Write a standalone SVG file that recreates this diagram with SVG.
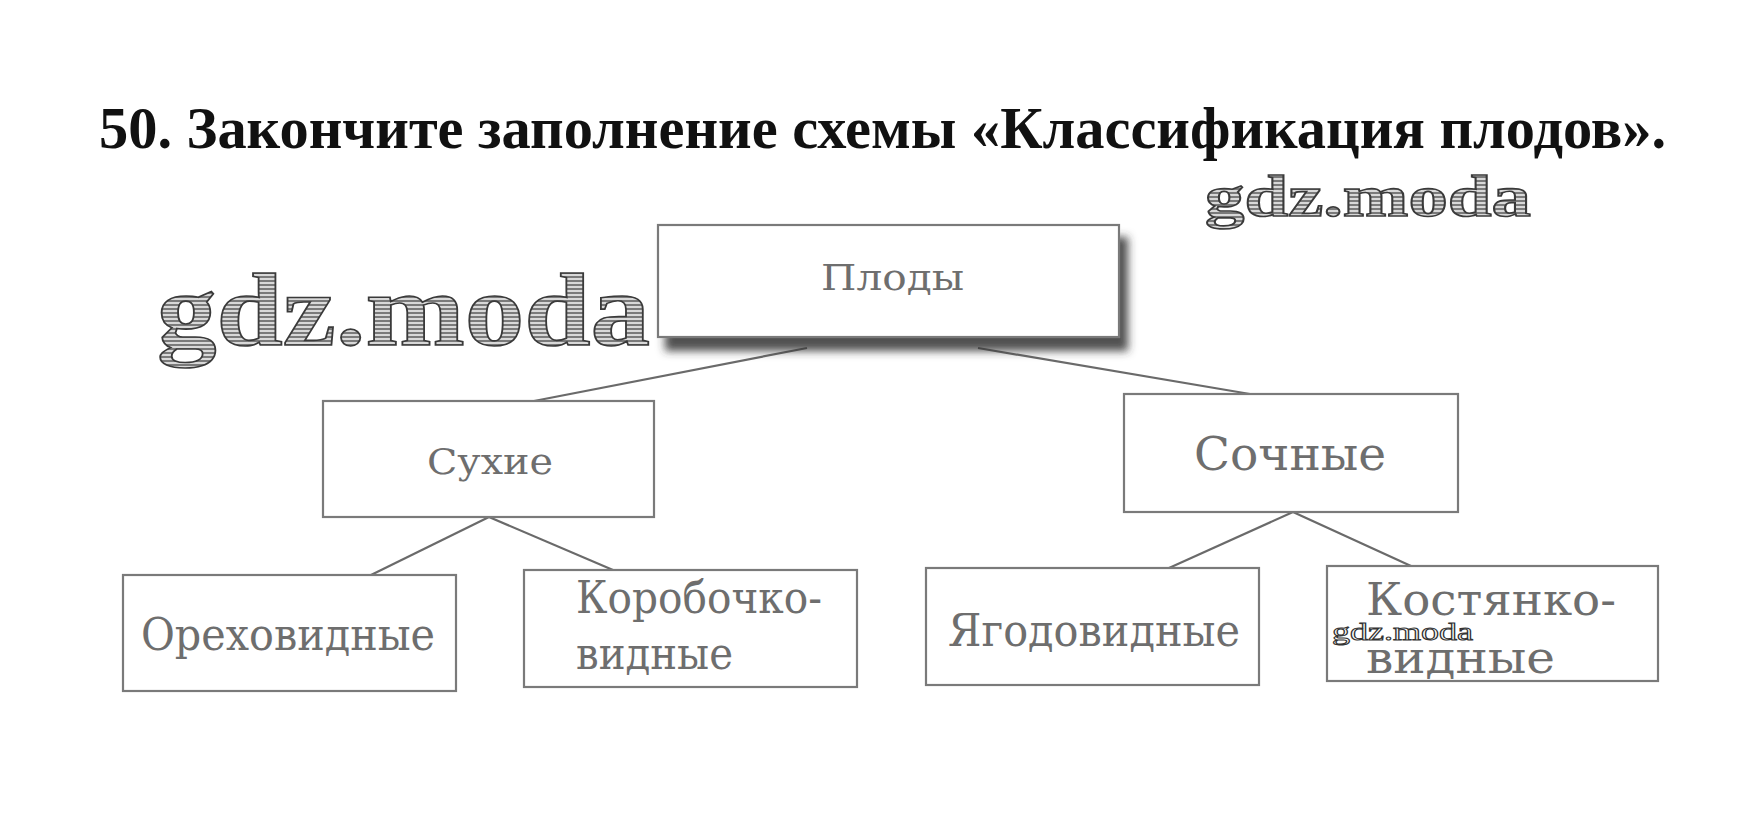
<svg xmlns="http://www.w3.org/2000/svg" width="1763" height="834" viewBox="0 0 1763 834">
<defs>
  <style>
    .box { fill: #ffffff; stroke: #7a7a7a; stroke-width: 2.2; }
    .lbl { font-family: "DejaVu Serif", "Liberation Serif", serif; fill: #6e6e6e; }
    .wm { font-family: "Liberation Serif", "DejaVu Serif", serif; font-weight: bold; fill: url(#hatch); stroke: #3a3a3a; stroke-width: 1.6; }
    .conn line { stroke: #6a6a6a; stroke-width: 2.2; }
  </style>
  <pattern id="hatch" width="6" height="4" patternUnits="userSpaceOnUse">
    <rect width="6" height="4" fill="#d8d8d8"/>
    <rect width="6" height="2" fill="#7a7a7a"/>
  </pattern>
  <filter id="shadow" x="-10%" y="-20%" width="130%" height="160%">
    <feDropShadow dx="8" dy="13" stdDeviation="4.5" flood-color="#333333" flood-opacity="0.85"/>
  </filter>
</defs>
<rect width="1763" height="834" fill="#ffffff"/>

<text x="99" y="148" font-family="Liberation Serif, serif" font-weight="bold" font-size="59" fill="#111" textLength="1567" lengthAdjust="spacingAndGlyphs">50. Закончите заполнение схемы «Классификация плодов».</text>

<g class="conn" id="connectors">
  <line x1="807" y1="348" x2="534" y2="401"/>
  <line x1="978" y1="348" x2="1250" y2="394"/>
  <line x1="489" y1="517" x2="371" y2="575"/>
  <line x1="489" y1="517" x2="613" y2="570"/>
  <line x1="1293" y1="512" x2="1169" y2="568"/>
  <line x1="1293" y1="512" x2="1411" y2="566"/>
</g>

<g id="node-plody">
  <rect class="box" x="658" y="225" width="461" height="112" filter="url(#shadow)"/>
  <text class="lbl" x="821" y="290" font-size="35" textLength="143" lengthAdjust="spacingAndGlyphs">Плоды</text>
</g>
<g id="node-sukhie">
  <rect class="box" x="323" y="401" width="331" height="116"/>
  <text class="lbl" x="427" y="474" font-size="35" textLength="126" lengthAdjust="spacingAndGlyphs">Сухие</text>
</g>
<g id="node-sochnye">
  <rect class="box" x="1124" y="394" width="334" height="118"/>
  <text class="lbl" x="1194" y="470" font-size="47" textLength="192" lengthAdjust="spacingAndGlyphs">Сочные</text>
</g>
<g id="node-orekhovidnye">
  <rect class="box" x="123" y="575" width="333" height="116"/>
  <text class="lbl" x="141" y="650" font-size="45" textLength="294" lengthAdjust="spacingAndGlyphs">Ореховидные</text>
</g>
<g id="node-korobochkovidnye">
  <rect class="box" x="524" y="570" width="333" height="117"/>
  <text class="lbl" x="576" y="613" font-size="45" textLength="246" lengthAdjust="spacingAndGlyphs">Коробочко-</text>
  <text class="lbl" x="576" y="669" font-size="45" textLength="157" lengthAdjust="spacingAndGlyphs">видные</text>
</g>
<g id="node-yagodovidnye">
  <rect class="box" x="926" y="568" width="333" height="117"/>
  <text class="lbl" x="948" y="646" font-size="45" textLength="292" lengthAdjust="spacingAndGlyphs">Ягодовидные</text>
</g>
<g id="node-kostyankovidnye">
  <rect class="box" x="1327" y="566" width="331" height="115"/>
  <text class="lbl" x="1366" y="615" font-size="45" textLength="250" lengthAdjust="spacingAndGlyphs">Костянко-</text>
  <text class="lbl" x="1366" y="673" font-size="45" textLength="189" lengthAdjust="spacingAndGlyphs">видные</text>
</g>

<g id="watermarks">
  <text class="wm" x="157" y="345" font-size="104" textLength="493" lengthAdjust="spacingAndGlyphs">gdz.moda</text>
  <text class="wm" x="1205" y="216" font-size="60" textLength="326" lengthAdjust="spacingAndGlyphs">gdz.moda</text>
  <text x="1332" y="640" font-family="Liberation Serif, serif" font-size="26" fill="#ffffff" stroke="#333" stroke-width="1" textLength="141" lengthAdjust="spacingAndGlyphs">gdz.moda</text>
</g>
</svg>
